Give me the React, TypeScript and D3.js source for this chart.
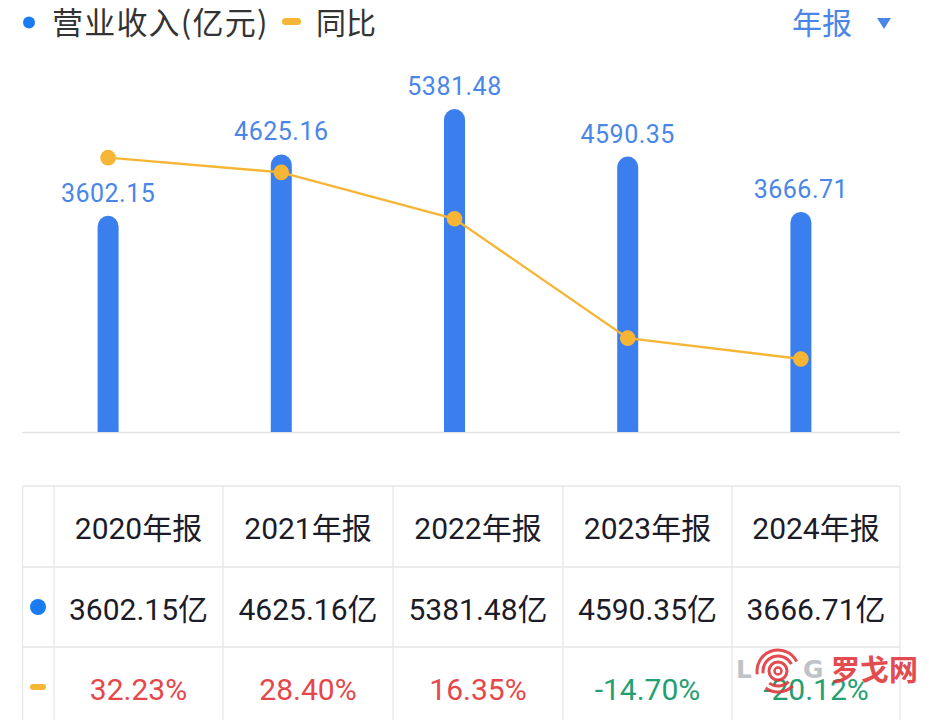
import React, { useEffect, useRef } from 'react';
import * as d3 from 'd3';

const years = ['2020', '2021', '2022', '2023', '2024'];
const revenue = [3602.15, 4625.16, 5381.48, 4590.35, 3666.71];
const yoy = [32.23, 28.4, 16.35, -14.7, -20.12];

const W = 929;
const H = 720;
const BLUE = '#3b7eed';
const LABEL_BLUE = '#4a86e8';
const ORANGE = '#f7b535';
const NUM_FONT = "Roboto, 'Noto Sans CJK SC', sans-serif";
const CJK_FONT = "'Noto Sans CJK SC', Roboto, sans-serif";

export default function App() {
  const svgRef = useRef<SVGSVGElement>(null);

  useEffect(() => {
    if (!svgRef.current) return;
    const svg = d3.select(svgRef.current);
    svg.selectAll('*').remove();

    svg.append('rect').attr('width', W).attr('height', H).attr('fill', '#fff');

    // legend
    const lg = svg.append('g');
    lg.append('circle').attr('cx', 29).attr('cy', 22.5).attr('r', 6).attr('fill', '#1a7cf0');
    lg.append('text').attr('x', 52).attr('y', 34).attr('font-size', 31).attr('letter-spacing', 1.2)
      .attr('font-family', CJK_FONT).attr('fill', '#333').text('营业收入(亿元)');
    lg.append('rect').attr('x', 282).attr('y', 18).attr('width', 19).attr('height', 7)
      .attr('rx', 3.5).attr('fill', ORANGE);
    lg.append('text').attr('x', 316).attr('y', 34).attr('font-size', 30)
      .attr('font-family', CJK_FONT).attr('fill', '#333').text('同比');
    lg.append('text').attr('x', 792).attr('y', 34).attr('font-size', 30)
      .attr('font-family', CJK_FONT).attr('fill', LABEL_BLUE).text('年报');
    lg.append('path').attr('d', 'M877,18 L891,18 L884,29 Z').attr('fill', LABEL_BLUE);

    // scales
    const baseY = 432;
    const x = d3.scaleBand<string>().domain(years).range([21.5, 887.5]).padding(0);
    const y = d3.scaleLinear().domain([0, 6000]).range([baseY, 72]);
    const y2 = d3.scaleLinear().domain([-39.1, 54.5]).range([baseY, 72]);
    const cx = (d: string) => (x(d) ?? 0) + x.bandwidth() / 2;

    svg.append('line').attr('x1', 22).attr('x2', 900).attr('y1', baseY + 0.5).attr('y2', baseY + 0.5)
      .attr('stroke', '#e3e3e3').attr('stroke-width', 1.5);

    // bars with rounded tops
    const bw = 21;
    const r = bw / 2;
    svg.append('g').selectAll('path').data(years).join('path')
      .attr('d', (d, i) => {
        const x0 = cx(d) - r;
        const top = y(revenue[i]);
        return `M${x0},${baseY} L${x0},${top + r} A${r},${r} 0 0 1 ${x0 + bw},${top + r} L${x0 + bw},${baseY} Z`;
      })
      .attr('fill', BLUE);

    svg.append('g').selectAll('text').data(years).join('text')
      .attr('x', d => cx(d))
      .attr('y', (d, i) => y(revenue[i]) - 14)
      .attr('text-anchor', 'middle')
      .attr('font-size', 25)
      .attr('font-family', NUM_FONT)
      .attr('letter-spacing', 0.5)
      .attr('fill', LABEL_BLUE)
      .text((d, i) => revenue[i].toFixed(2));

    // yoy line
    const line = d3.line<number>().x((v, i) => cx(years[i])).y(v => y2(v));
    svg.append('path').datum(yoy).attr('d', line).attr('fill', 'none')
      .attr('stroke', ORANGE).attr('stroke-width', 2.4);
    svg.append('g').selectAll('circle').data(yoy).join('circle')
      .attr('cx', (v, i) => cx(years[i])).attr('cy', v => y2(v)).attr('r', 7.8)
      .attr('fill', ORANGE);

    // table
    const cols = [22.5, 54, 223, 393, 563, 732, 900];
    const rows = [486, 567, 647, 727];
    const grid = svg.append('g').attr('stroke', '#e6e6e6').attr('stroke-width', 1.3);
    cols.forEach(c => grid.append('line').attr('x1', c).attr('x2', c).attr('y1', rows[0]).attr('y2', H));
    rows.slice(0, 3).forEach(rr => grid.append('line').attr('x1', cols[0]).attr('x2', cols[6]).attr('y1', rr).attr('y2', rr));

    const colCenter = (i: number) => (cols[i + 1] + cols[i + 2]) / 2;
    const rowText = (ri: number, texts: string[], colors: string[]) => {
      svg.append('g').selectAll('text').data(texts).join('text')
        .attr('x', (t, i) => colCenter(i))
        .attr('y', (rows[ri] + rows[ri + 1]) / 2 + 2)
        .attr('dominant-baseline', 'central')
        .attr('text-anchor', 'middle')
        .attr('font-size', 30)
        .attr('font-family', NUM_FONT)
        .attr('fill', (t, i) => colors[i])
        .text(t => t);
    };
    rowText(0, years.map(d => `${d}年报`), years.map(() => '#1c1c28'));
    rowText(1, revenue.map(v => `${v.toFixed(2)}亿`), years.map(() => '#1c1c28'));
    rowText(2, yoy.map(v => `${v.toFixed(2)}%`), yoy.map(v => (v >= 0 ? '#e5474a' : '#22a070')));

    svg.append('circle').attr('cx', 38).attr('cy', 607).attr('r', 8).attr('fill', '#1a7cf0');
    svg.append('rect').attr('x', 30).attr('y', 684).attr('width', 16).attr('height', 6)
      .attr('rx', 3).attr('fill', ORANGE);

    // watermark overlay (LOG罗戈网)
    const wm = svg.append('g').attr('opacity', 0.9);
    wm.append('text').attr('x', 736).attr('y', 678).attr('font-size', 25).attr('font-weight', 700)
      .attr('font-family', "'DejaVu Sans', sans-serif").attr('fill', '#b9bdc2').text('L');
    wm.append('text').attr('x', 803).attr('y', 678).attr('font-size', 25).attr('font-weight', 700)
      .attr('font-family', "'DejaVu Sans', sans-serif").attr('fill', '#b9bdc2').text('G');
    const red = '#e0383e';
    wm.append('circle').attr('cx', 778).attr('cy', 671).attr('r', 3.5).attr('fill', 'none')
      .attr('stroke', red).attr('stroke-width', 2.5);
    wm.append('circle').attr('cx', 778).attr('cy', 671).attr('r', 9).attr('fill', 'none')
      .attr('stroke', red).attr('stroke-width', 3);
    const arc = d3.arc();
    [15, 21].forEach(rad => {
      wm.append('path')
        .attr('d', arc({ innerRadius: rad - 1.5, outerRadius: rad + 1.5, startAngle: -Math.PI * 0.55, endAngle: Math.PI * 0.35 }) as string)
        .attr('transform', 'translate(778,671)').attr('fill', red);
      wm.append('path')
        .attr('d', arc({ innerRadius: rad - 1.5, outerRadius: rad + 1.5, startAngle: Math.PI * 0.75, endAngle: Math.PI * 1.2 }) as string)
        .attr('transform', 'translate(778,671)').attr('fill', red);
    });
    wm.append('text').attr('x', 831).attr('y', 681).attr('font-size', 29).attr('font-weight', 700)
      .attr('font-family', CJK_FONT).attr('fill', red).text('罗戈网');
  }, []);

  return (
    <svg
      ref={svgRef}
      width={W}
      height={H}
      style={{ position: 'absolute', left: 0, top: 0, display: 'block' }}
    />
  );
}
